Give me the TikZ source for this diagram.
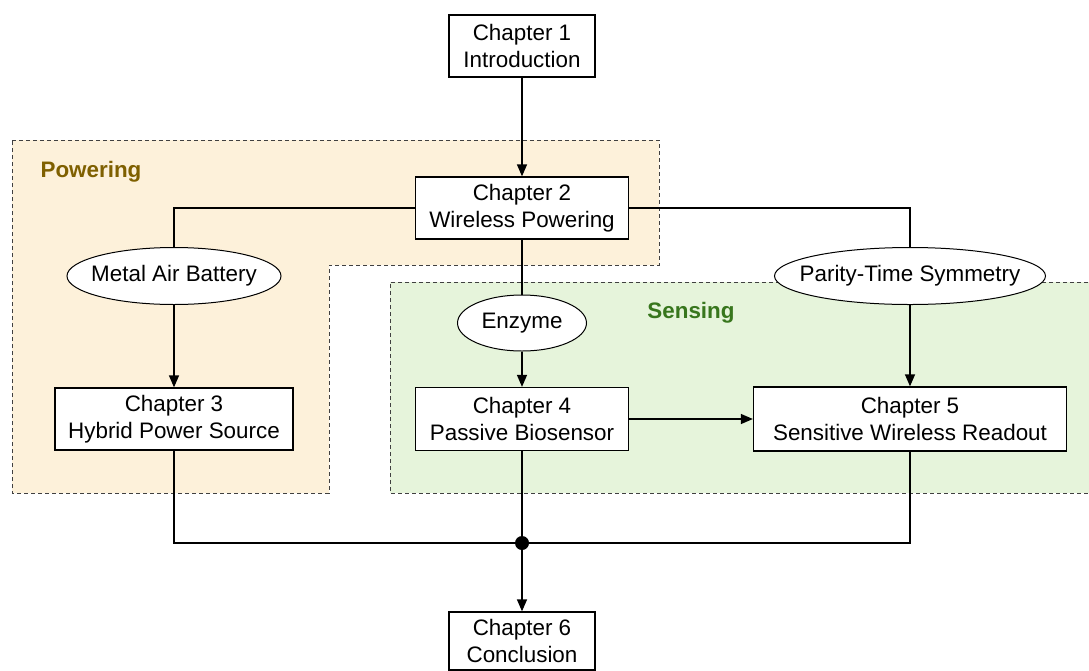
\documentclass[tikz,border=0pt]{standalone}
\usepackage{fontspec}
\setmainfont{Liberation Sans}
\usetikzlibrary{arrows.meta,shapes.geometric,backgrounds}
\definecolor{powerfill}{HTML}{FDF1DA}
\definecolor{sensefill}{HTML}{E6F4DB}
\definecolor{powertext}{HTML}{7F6000}
\definecolor{sensetext}{HTML}{38761D}
\definecolor{regionline}{HTML}{404040}
\tikzset{
  chapter/.style={draw=black, line width=1.3pt, fill=white, align=center,
    inner sep=0pt, font=\fontsize{22.4}{26.5}\selectfont},
  % negative horizontal padding so that the given minimum width fixes the ellipse size
  topic/.style={draw=black, line width=1pt, fill=white, ellipse, inner ysep=0pt,
    inner xsep=-16pt, font=\fontsize{22.4}{26.5}\selectfont},
  link/.style={line width=1.4pt, draw=black},
  flow/.style={link, -{Triangle[width=10pt,length=12pt]}},
  region/.style={draw=regionline, line width=0.9pt, dash pattern=on 4pt off 3pt},
  regionlabel/.style={font=\bfseries\fontsize{22.4}{26.5}\selectfont, anchor=center},
  junction/.style={circle, fill=black, inner sep=0pt, minimum width=13pt, minimum height=14pt}
}
\begin{document}
\begin{tikzpicture}[x=1pt,y=-1pt]
\useasboundingbox (0,0) rectangle (1089,670);

% chapter boxes
\node[chapter, minimum width=146pt, minimum height=62pt] (c1) at (522,46) {Chapter 1\\Introduction};
\node[chapter, minimum width=213pt, minimum height=62pt] (c2) at (522,208) {Chapter 2\\Wireless Powering};
\node[chapter, minimum width=238pt, minimum height=62pt] (c3) at (174,419) {Chapter 3\\Hybrid Power Source};
\node[chapter, minimum width=213pt, minimum height=63pt] (c4) at (522,419) {Chapter 4\\Passive Biosensor};
\node[chapter, minimum width=313pt, minimum height=64pt] (c5) at (910,419) {Chapter 5\\Sensitive Wireless Readout};
\node[chapter, minimum width=146pt, minimum height=58pt] (c6) at (522,641) {Chapter 6\\Conclusion};

% technology ellipses
\node[topic, minimum width=214pt, minimum height=57pt] (mab) at (174,276) {Metal Air Battery};
\node[topic, minimum width=129pt, minimum height=56pt] (enz) at (522,323) {Enzyme};
\node[topic, minimum width=271pt, minimum height=57pt] (pts) at (910,276) {Parity-Time Symmetry};

% bus junction
\node[junction] (bus) at (522,543) {};

% region labels
\node[regionlabel, text=powertext] (lblpow) at (91,172) {Powering};
\node[regionlabel, text=sensetext] (lblsen) at (691,313) {Sensing};

% shaded regions behind everything
\begin{scope}[on background layer]
  \draw[region, fill=powerfill] (12,140) -- (659,140) -- (659,265) -- (329,265)
        -- (329,493) -- (12,493) -- cycle;
  \draw[region, fill=sensefill] (1095,282) -- (390,282) -- (390,493) -- (1095,493);
\end{scope}

% connectors
\draw[flow] (c1.south) -- (c2.north);
\draw[link] (c2.west) -| (mab.north);
\draw[flow] (mab.south) -- (c3.north);
\draw[link] (c2.south) -- (enz.north);
\draw[flow] (enz.south) -- (c4.north);
\draw[link] (c2.east) -| (pts.north);
\draw[flow] (pts.south) -- (c5.north);
\draw[flow] (c4.east) -- (c5.west);
\draw[link] (c3.south) |- (bus.center) -| (c5.south);
\draw[link] (c4.south) -- (bus.center);
\draw[flow] (bus.center) -- (c6.north);
\end{tikzpicture}
\end{document}
